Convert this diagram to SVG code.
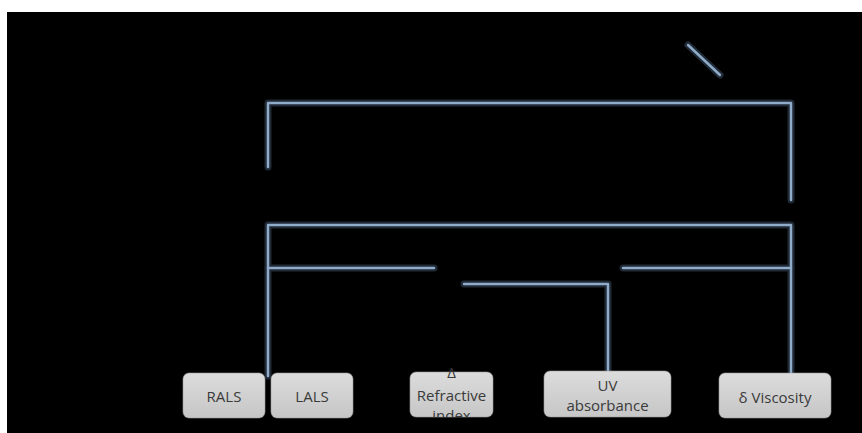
<svg xmlns="http://www.w3.org/2000/svg" width="862" height="433" viewBox="0 0 862 433">
<style>
.glow{fill:none;stroke:#2e3d4d;stroke-width:7;stroke-linecap:round;stroke-linejoin:round;opacity:0.7}
.ln{fill:none;stroke:#8eabc9;stroke-width:2.5;stroke-linecap:round;stroke-linejoin:round}
.box{fill:url(#bg);stroke:#9a9a9a;stroke-width:0.6}
.t{font-family:"Open Sans","Liberation Sans",sans-serif;font-size:15px;fill:#3a3a3a;text-anchor:middle}
</style>
<defs>
<linearGradient id="bg" x1="0" y1="0" x2="0" y2="1">
<stop offset="0" stop-color="#dcdcdc"/>
<stop offset="1" stop-color="#c6c6c6"/>
</linearGradient>
<clipPath id="rc"><rect x="400" y="360" width="100" height="57"/></clipPath>
</defs>
<rect x="0" y="0" width="862" height="433" fill="#ffffff"/>
<rect x="7" y="12" width="855" height="421" fill="#000000"/>
<g id="connectors">
<g class="glow">
<path d="M268 167 V103 H791 V200"/>
<path d="M688 45 L720 75"/>
<path d="M268 376 V225 H791 V378"/>
<path d="M268 268 H434"/>
<path d="M623 268 H791"/>
<path d="M464 284 H608 V372"/>
</g>
<g class="ln">
<path d="M268 167 V103 H791 V200"/>
<path d="M688 45 L720 75"/>
<path d="M268 376 V225 H791 V378"/>
<path d="M268 268 H434"/>
<path d="M623 268 H791"/>
<path d="M464 284 H608 V372"/>
</g>
</g>
<g id="rals">
<rect class="box" x="183" y="373" width="82" height="45" rx="6"/>
<text class="t" x="224" y="402">RALS</text>
</g>
<g id="lals">
<rect class="box" x="271" y="373" width="82" height="45" rx="6"/>
<text class="t" x="312" y="402">LALS</text>
</g>
<g id="refractive">
<rect class="box" x="410" y="372" width="83" height="45" rx="6"/>
<g clip-path="url(#rc)">
<text class="t" x="451.5" y="378">Δ</text>
<text class="t" x="451.5" y="401">Refractive</text>
<text class="t" x="451.5" y="421">index</text>
</g>
</g>
<g id="uv">
<rect class="box" x="544" y="371" width="127" height="46" rx="6"/>
<text class="t" x="607.5" y="391">UV</text>
<text class="t" x="607.5" y="411">absorbance</text>
</g>
<g id="viscosity">
<rect class="box" x="719" y="373" width="112" height="45" rx="6"/>
<text class="t" x="775" y="403">δ Viscosity</text>
</g>
</svg>
